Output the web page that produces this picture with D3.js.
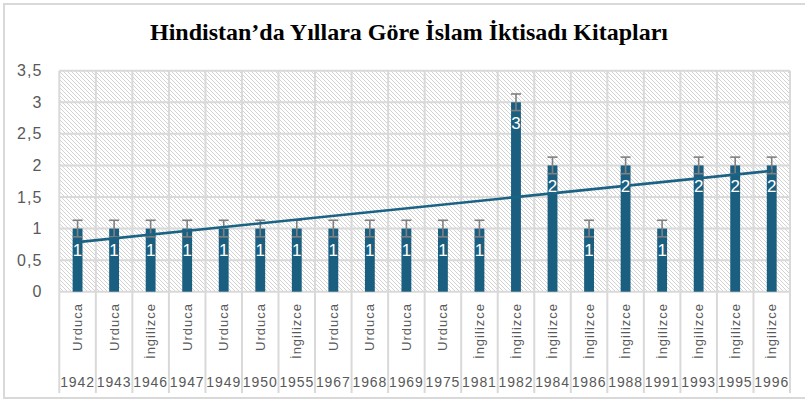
<!DOCTYPE html>
<html>
<head>
<meta charset="utf-8">
<script src="https://cdn.jsdelivr.net/npm/d3@7"></script>
<style>
  body { margin: 0; background: #fff; }
  svg { display: block; font-family: "Liberation Sans", Arial, sans-serif; }
</style>
</head>
<body>
<svg id="chart" width="805" height="402"></svg>
<script>
const years = ['1942', '1943', '1946', '1947', '1949', '1950', '1955', '1967', '1968', '1969',
    '1975', '1981', '1982', '1984', '1986', '1988', '1991', '1993', '1995', '1996']
const languages = ['Urduca', 'Urduca', 'İngilizce', 'Urduca', 'Urduca', 'Urduca', 'İngilizce', 'Urduca', 'Urduca', 'Urduca',
    'Urduca', 'İngilizce', 'İngilizce', 'İngilizce', 'İngilizce', 'İngilizce', 'İngilizce', 'İngilizce', 'İngilizce', 'İngilizce']
const counts = [1, 1, 1, 1, 1, 1, 1, 1, 1, 1, 1, 1, 3, 2, 1, 2, 1, 2, 2, 2]
const yTicks = [0, 0.5, 1, 1.5, 2, 2.5, 3, 3.5]

const svg = d3.select('#chart')
const plotLeft = 59.3, plotRight = 790, plotTop = 70.7, plotBottom = 291.7

// outer frame
svg.append('rect')
    .attr('x', 4).attr('y', 4).attr('width', 810).attr('height', 394)
    .attr('fill', 'none').attr('stroke', '#d9d9d9').attr('stroke-width', 2)

svg.append('text')
    .text('Hindistan’da Yıllara Göre İslam İktisadı Kitapları')
    .attr('x', 409).attr('y', 40)
    .attr('text-anchor', 'middle')
    .attr('font-family', '"Liberation Serif", "Times New Roman", serif')
    .attr('font-weight', 'bold')
    .attr('font-size', 24)
    .attr('fill', '#000')

// hatch pattern for plot background
const pat = svg.append('defs').append('pattern')
    .attr('id', 'hatch').attr('patternUnits', 'userSpaceOnUse')
    .attr('width', 4).attr('height', 4)
pat.append('path')
    .attr('d', 'M0,0 L4,4 M-1,3 L1,5 M3,-1 L5,1')
    .attr('stroke', '#cdcdcd').attr('stroke-width', 0.9)

const x = d3.scaleBand().domain(years).range([plotLeft, plotRight])
const barW = x.bandwidth() * 0.27
const y = d3.scaleLinear().domain([0, 3.5]).range([plotBottom, plotTop])
const cx = d => x(d) + x.bandwidth() / 2

svg.append('rect')
    .attr('x', plotLeft).attr('y', plotTop).attr('width', plotRight - plotLeft).attr('height', plotBottom - plotTop)
    .attr('fill', 'url(#hatch)')

// grid
svg.append('g').selectAll('line').data(yTicks).join('line')
    .attr('x1', plotLeft).attr('x2', plotRight)
    .attr('y1', d => y(d)).attr('y2', d => y(d))
    .attr('stroke', '#d9d9d9').attr('stroke-width', 2)

const edges = years.map(d => x(d)).concat([plotRight])
svg.append('g').selectAll('line').data(edges).join('line')
    .attr('x1', d => d).attr('x2', d => d)
    .attr('y1', plotTop).attr('y2', 393)
    .attr('stroke', '#d9d9d9').attr('stroke-width', 2)

// y axis
const yAxis = svg.append('g').attr('transform', 'translate(' + (plotLeft - 14) + ',0)')
    .call(d3.axisLeft(y).tickValues(yTicks).tickSize(0).tickFormat(d => String(d).replace('.', ',')))
yAxis.select('.domain').remove()
yAxis.selectAll('.tick text')
    .attr('font-size', 16)
    .attr('font-family', '"Liberation Sans", Arial, sans-serif')
    .attr('letter-spacing', 1)
    .attr('fill', '#595959')

// bars
const data = years.map((d, i) => ({ year: d, lang: languages[i], value: counts[i] }))
svg.append('g').selectAll('rect').data(data).join('rect')
    .attr('x', d => cx(d.year) - barW / 2)
    .attr('width', barW)
    .attr('y', d => y(d.value))
    .attr('height', d => y(0) - y(d.value))
    .attr('fill', '#1b5f80')

// error bars (standard error, as Excel does)
const se = d3.deviation(counts) / Math.sqrt(counts.length)
const eb = svg.append('g').attr('stroke', '#808080').attr('stroke-width', 1.6)
data.forEach(d => {
    const c = cx(d.year)
    eb.append('line').attr('x1', c).attr('x2', c).attr('y1', y(d.value + se)).attr('y2', y(d.value - se))
    eb.append('line').attr('x1', c - 5).attr('x2', c + 5).attr('y1', y(d.value + se)).attr('y2', y(d.value + se))
    eb.append('line').attr('x1', c - 5).attr('x2', c + 5).attr('y1', y(d.value - se)).attr('y2', y(d.value - se))
})

// linear trend line
const idx = counts.map((d, i) => i + 1)
const mx = d3.mean(idx), my = d3.mean(counts)
const slope = d3.sum(idx, (v, i) => (v - mx) * (counts[i] - my)) / d3.sum(idx, v => (v - mx) * (v - mx))
const icpt = my - slope * mx
svg.append('line')
    .attr('x1', cx(years[0])).attr('y1', y(icpt + slope * 1))
    .attr('x2', cx(years[years.length - 1])).attr('y2', y(icpt + slope * years.length))
    .attr('stroke', '#1b6384').attr('stroke-width', 2.6)

// value labels
svg.append('g').selectAll('text').data(data).join('text')
    .attr('x', d => cx(d.year))
    .attr('y', d => y(d.value) + 27)
    .attr('text-anchor', 'middle')
    .attr('font-size', 17)
    .attr('fill', '#fff')
    .text(d => d.value)

// category labels: language (rotated) and year
svg.append('g').selectAll('text').data(data).join('text')
    .attr('transform', d => 'translate(' + cx(d.year) + ',303) rotate(-90)')
    .attr('text-anchor', 'end')
    .attr('dy', '0.35em')
    .attr('font-size', 13)
    .attr('letter-spacing', 1)
    .attr('fill', '#595959')
    .text(d => d.lang)

svg.append('g').selectAll('text').data(data).join('text')
    .attr('x', d => cx(d.year))
    .attr('y', 387)
    .attr('text-anchor', 'middle')
    .attr('font-size', 14)
    .attr('letter-spacing', 0.9)
    .attr('fill', '#595959')
    .text(d => d.year)
</script>
</body>
</html>
